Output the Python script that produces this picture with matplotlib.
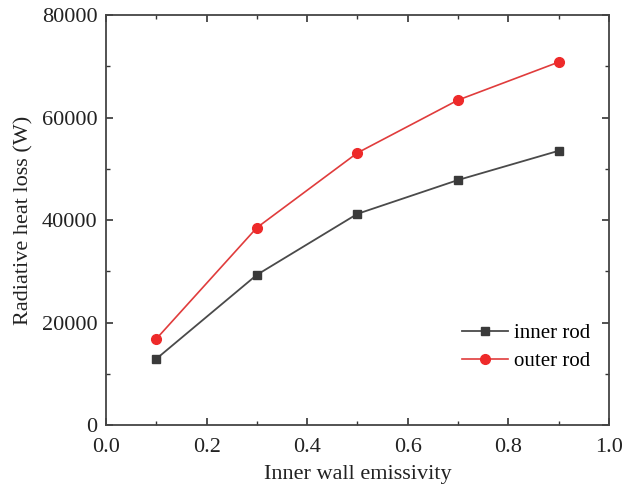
import matplotlib
matplotlib.use('Agg')
import matplotlib.pyplot as plt
from matplotlib.ticker import MultipleLocator

plt.rcParams['font.family'] = 'Liberation Serif'

emissivity = [0.1, 0.3, 0.5, 0.7, 0.9]
inner_rod = [12900, 29300, 41200, 47800, 53500]
outer_rod = [16800, 38500, 53100, 63400, 70800]

fig = plt.figure(figsize=(6.29, 4.87), dpi=100)
ax = fig.add_axes([0.1685, 0.1273, 0.7995, 0.8419])

ax.plot(emissivity, inner_rod, color='#4a4a4a', marker='s', markersize=6,
        markerfacecolor='#3a3a3a', markeredgecolor='#3a3a3a', lw=1.3, label='inner rod')
ax.plot(emissivity, outer_rod, color='#e03c3c', marker='o', markersize=7,
        markerfacecolor='#ee2a2a', markeredgecolor='#ee2a2a', lw=1.2, label='outer rod')

ax.set_xlim(0, 1.0)
ax.set_ylim(0, 80000)
ax.xaxis.set_major_locator(MultipleLocator(0.2))
ax.xaxis.set_minor_locator(MultipleLocator(0.1))
ax.yaxis.set_major_locator(MultipleLocator(20000))
ax.yaxis.set_minor_locator(MultipleLocator(10000))
ax.xaxis.set_major_formatter(plt.FormatStrFormatter('%.1f'))

ax.tick_params(which='both', direction='in', top=True, right=True, colors='#333333',
               labelsize=16, labelcolor='#222222')
ax.tick_params(which='major', length=5, width=1.2)
ax.tick_params(which='minor', length=3, width=1.0)
ax.tick_params(axis='x', which='major', pad=9)
ax.tick_params(axis='y', which='major', pad=6)
for s in ax.spines.values():
    s.set_color('#444444')
    s.set_linewidth(1.3)

ax.set_xlabel('Inner wall emissivity', fontsize=16, color='#222222', labelpad=6)
ax.set_ylabel('Radiative heat loss (W)', fontsize=16, color='#222222', labelpad=6)

ax.legend(loc='lower right', bbox_to_anchor=(1.0, 0.085), frameon=False, fontsize=15,
          handlelength=2.2, handletextpad=0.3, labelspacing=0.4)

fig.savefig('out.png', dpi=100)
